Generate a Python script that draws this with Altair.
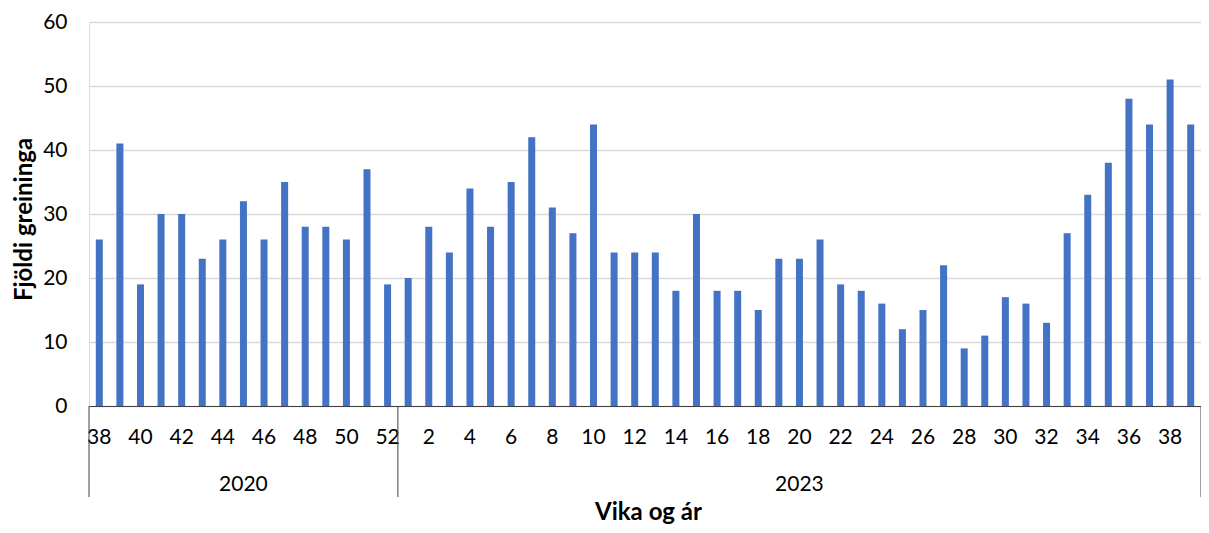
import altair as alt
import pandas as pd

# --- data ---
weeks_2020 = [38, 39, 40, 41, 42, 43, 44, 45, 46, 47, 48, 49, 50, 51, 52]
values_2020 = [26, 41, 19, 30, 30, 23, 26, 32, 26, 35, 28, 28, 26, 37, 19]
weeks_2023 = list(range(1, 40))
values_2023 = [20, 28, 24, 34, 28, 35, 42, 31, 27, 44, 24, 24, 24, 18, 30, 18, 18, 15, 23, 23,
               26, 19, 18, 16, 12, 15, 22, 9, 11, 17, 16, 13, 27, 33, 38, 48, 44, 51, 44]
years = ["2020", "2023"]

FONT = "Lato"
BLUE = "#4472C4"
LINE = "#404040"

rows = []
for y, wk, vals in [(years[0], weeks_2020, values_2020), (years[1], weeks_2023, values_2023)]:
    for w, v in zip(wk, vals):
        rows.append({"key": f"{y}-{w}", "year": y, "week": w, "value": v})
df = pd.DataFrame(rows)

n20 = len(weeks_2020)
n23 = len(weeks_2023)
groups = pd.DataFrame({"year": years, "start": [0, n20], "end": [n20, n20 + n23]})
bounds = pd.DataFrame({"b": [0, n20, n20 + n23]})

W, H = 1112, 384

bars = alt.Chart(df).mark_bar(color=BLUE).encode(
    x=alt.X("key:N", sort=None,
            scale=alt.Scale(paddingInner=0.66, paddingOuter=0.33),
            axis=alt.Axis(
                title="Vika og ár", labelAngle=0, ticks=False, tickSize=0,
                labelExpr="toNumber(split(datum.value, '-')[1]) % 2 == 0 ? split(datum.value, '-')[1] : ''",
                labelFont=FONT, labelFontSize=21, labelColor="#000000",
                labelBaseline="middle", labelPadding=31, labelOverlap=False,
                domainColor=LINE, domainWidth=1, grid=False,
                titleFont=FONT, titleFontSize=24, titleFontWeight="bold", titleColor="#000000",
                titleY=113, titleX=W / 2 + 3, titleBaseline="alphabetic", titleAnchor="start", titleAlign="center")),
    y=alt.Y("value:Q",
            scale=alt.Scale(domain=[0, 60]),
            axis=alt.Axis(
                title="Fjöldi greininga", values=[0, 10, 20, 30, 40, 50, 60],
                ticks=False, tickSize=0, domain=False,
                labelFont=FONT, labelFontSize=21, labelColor="#000000", labelPadding=22,
                gridColor="#d9d9d9", gridWidth=1.5,
                titleFont=FONT, titleFontSize=24, titleFontWeight="bold", titleColor="#000000",
                titleX=-65, titleY=H / 2 + 5, titleBaseline="middle", titleAngle=-90)),
)

rules = alt.Chart(bounds).mark_rule(color=LINE, strokeWidth=1).encode(
    x=alt.X("b:Q", scale=alt.Scale(domain=[0, n20 + n23], nice=False, zero=True), axis=None),
    y=alt.value(H),
    y2=alt.value(H + 91),
)

year_text = alt.Chart(groups).transform_calculate(
    mid="(datum.start + datum.end) / 2"
).mark_text(font=FONT, fontSize=21, color="#000000", baseline="middle").encode(
    x=alt.X("mid:Q", scale=alt.Scale(domain=[0, n20 + n23], nice=False, zero=True), axis=None),
    y=alt.value(H + 79),
    text="year:N",
)

chart = alt.layer(bars, alt.layer(rules, year_text)).resolve_scale(x="independent").properties(
    width=W, height=H,
    padding={"left": 81, "top": 14, "right": 0, "bottom": 119},
    autosize=alt.AutoSizeParams(type="none"),
).configure_view(stroke=None).configure(background="white")

chart.save("out.html", embed_options={"renderer": "svg", "actions": False})
